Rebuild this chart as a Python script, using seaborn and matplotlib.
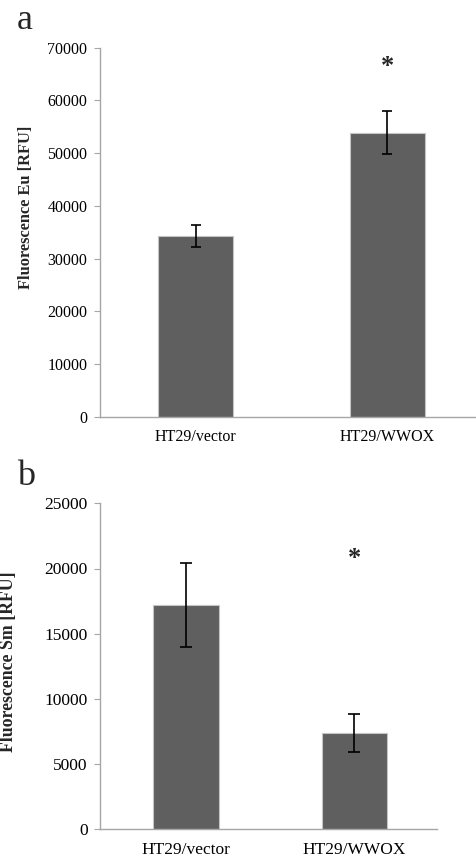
import matplotlib
matplotlib.use("Agg")
import matplotlib.pyplot as plt
import seaborn as sns
import pandas as pd

# ---- data ----
categories = ["HT29/vector", "HT29/WWOX"]
eu_values = [34300, 53900]
eu_errors = [2150, 4000]
sm_values = [17200, 7400]
sm_errors = [3200, 1450]
eu_ticks = [0, 10000, 20000, 30000, 40000, 50000, 60000, 70000]
sm_ticks = [0, 5000, 10000, 15000, 20000, 25000]

sns.set_style("white")
plt.rcParams["font.family"] = ["Liberation Serif", "DejaVu Serif"]

W, H = 476, 860
fig = plt.figure(figsize=(W / 100, H / 100), dpi=100)

bar_color = "#5f5f5f"
spine_color = "#a6a6a6"


def panel(rect, values, errors, ticks, ylabel, fs, xlim, cap, label_xy, star_y):
    ax = fig.add_axes(rect)
    df = pd.DataFrame({"group": categories, "value": values})
    sns.barplot(data=df, x="group", y="value", color=bar_color, width=0.39,
                saturation=1, errorbar=None, edgecolor="#c4c4c4", linewidth=0.8, ax=ax)
    ax.errorbar(x=list(range(len(values))), y=values, yerr=errors, fmt="none",
                ecolor="black", elinewidth=1.2, capsize=cap, capthick=1.2, zorder=5)
    ax.set_ylim(ticks[0], ticks[-1])
    ax.set_xlim(*xlim)
    ax.set_yticks(ticks)
    ax.set_yticklabels([str(t) for t in ticks], fontsize=fs)
    ax.set_xlabel("")
    ax.set_ylabel(ylabel, fontsize=fs + 0.3, fontweight="bold")
    ax.yaxis.set_label_coords(*label_xy)
    for s in ["top", "right"]:
        ax.spines[s].set_visible(False)
    for s in ["left", "bottom"]:
        ax.spines[s].set_color(spine_color)
        ax.spines[s].set_linewidth(1.0)
    ax.tick_params(axis="y", which="both", left=True, length=4, width=0.8,
                   color=spine_color, pad=5, labelcolor="black")
    ax.tick_params(axis="x", bottom=False, length=0, pad=9, labelsize=fs, labelcolor="black")
    ax.text(1, star_y, "*", ha="center", va="center", fontsize=19, fontweight="bold")
    return ax


ax1 = panel([100 / W, 1 - 416.7 / H, 383 / W, 369 / H], eu_values, eu_errors, eu_ticks,
            "Fluorescence Eu [RFU]", 11.5, (-0.5, 1.5), 3.3, (-0.172, 0.567), 66500)
ax2 = panel([100 / W, 1 - 829.3 / H, 337 / W, 326 / H], sm_values, sm_errors, sm_ticks,
            "Fluorescence Sm [RFU]", 12.5, (-0.51, 1.49), 4.0, (-0.245, 0.514), 20800)

fig.text(17 / W, 1 - 29 / H, "a", fontsize=26, ha="left", va="baseline")
fig.text(17 / W, 1 - 485 / H, "b", fontsize=26, ha="left", va="baseline")

fig.savefig("out.png", dpi=100)
